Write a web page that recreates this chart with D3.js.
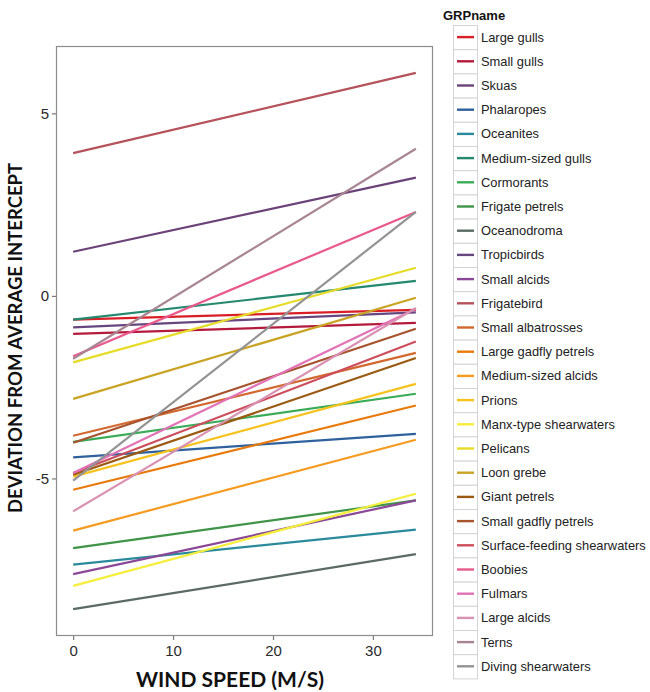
<!DOCTYPE html>
<html>
<head>
<meta charset="utf-8">
<script src="https://cdn.jsdelivr.net/npm/d3@7"></script>
<style>
  html, body { margin: 0; padding: 0; background: #fff; }
  svg { display: block; }
</style>
</head>
<body>
<svg id="chart" width="650" height="692"></svg>
<script>
// ---- data ----
const groups = [
  "Large gulls", "Small gulls", "Skuas", "Phalaropes", "Oceanites",
  "Medium-sized gulls", "Cormorants", "Frigate petrels", "Oceanodroma",
  "Tropicbirds", "Small alcids", "Frigatebird", "Small albatrosses",
  "Large gadfly petrels", "Medium-sized alcids", "Prions",
  "Manx-type shearwaters", "Pelicans", "Loon grebe", "Giant petrels",
  "Small gadfly petrels", "Surface-feeding shearwaters", "Boobies",
  "Fulmars", "Large alcids", "Terns", "Diving shearwaters"
];
// deviation at wind speed 0
const startValues = [
  -0.65, -1.04, 1.21, -4.42, -7.36,
  -0.65, -4.00, -6.91, -8.58,
  -0.86, -7.62, 3.91, -3.83,
  -5.31, -6.43, -4.95,
  -7.94, -1.82, -2.82, -4.90,
  -4.02, -4.85, -1.65,
  -4.85, -5.90, -1.72, -5.06
];
// deviation at max wind speed
const endValues = [
  -0.38, -0.74, 3.24, -3.78, -6.40,
  0.41, -2.68, -5.60, -7.07,
  -0.45, -5.60, 6.11, -1.56,
  -3.00, -3.94, -2.41,
  -5.42, 0.77, -0.05, -1.70,
  -0.90, -1.25, 2.30,
  -0.35, -0.33, 4.03, 2.30
];
const windRange = [0, 34.3];
const xTicks = [0, 10, 20, 30];
const yTicks = [-5, 0, 5];
const colors = [
  "#d91e26", "#b31a3c", "#6b4378", "#2f619d", "#2a8a9c",
  "#25896f", "#3aac58", "#3f9448", "#5b6b63",
  "#66467f", "#8b4896", "#b5525c", "#d2682e",
  "#e87a0c", "#f59b22", "#f6c21e",
  "#f5ee3a", "#e6dc28", "#c9a424", "#9a5a12",
  "#a6532e", "#cc4e5c", "#e95a8c",
  "#e173b6", "#d992b2", "#a88592", "#939393"
];

// ---- layout ----
const svg = d3.select("#chart");
const panel = { left: 56, top: 46, right: 433, bottom: 636 };

const xExp = (windRange[1] - windRange[0]) * 0.05;
const x = d3.scaleLinear()
  .domain([windRange[0] - xExp, windRange[1] + xExp])
  .range([panel.left, panel.right]);

const allVals = startValues.concat(endValues);
const yMin = d3.min(allVals), yMax = d3.max(allVals);
const yExp = (yMax - yMin) * 0.05;
const y = d3.scaleLinear()
  .domain([yMin - yExp, yMax + yExp])
  .range([panel.bottom, panel.top]);

// panel border
svg.append("rect")
  .attr("x", panel.left + 0.5).attr("y", panel.top + 0.5)
  .attr("width", panel.right - panel.left - 1)
  .attr("height", panel.bottom - panel.top - 1)
  .attr("fill", "#fff").attr("stroke", "#8c8c8c").attr("stroke-width", 1.2);

// lines
const lineGen = d3.line().x(d => x(d[0])).y(d => y(d[1]));
const series = groups.map((g, i) => ({
  name: g, color: colors[i],
  pts: [[windRange[0], startValues[i]], [windRange[1], endValues[i]]]
}));
svg.append("g").selectAll("path").data(series).join("path")
  .attr("d", d => lineGen(d.pts))
  .attr("fill", "none")
  .attr("stroke", d => d.color)
  .attr("stroke-width", 2.2)
  .attr("stroke-linecap", "butt");

// axes
const xAxis = d3.axisBottom(x).tickValues(xTicks).tickSize(4).tickPadding(5).tickFormat(d3.format("d"));
const gx = svg.append("g").attr("transform", `translate(0,${panel.bottom})`).call(xAxis);
const yAxis = d3.axisLeft(y).tickValues(yTicks).tickSize(4).tickPadding(3).tickFormat(d => d);
const gy = svg.append("g").attr("transform", `translate(${panel.left},0)`).call(yAxis);
[gx, gy].forEach(g => {
  g.select(".domain").remove();
  g.selectAll(".tick line").attr("stroke", "#7a7a7a").attr("stroke-width", 1.2);
  g.selectAll(".tick text")
    .attr("fill", "#2a2a2a")
    .style("font-family", "Liberation Sans, Arial, sans-serif")
    .style("font-size", "15px");
});

// axis titles
svg.append("text")
  .attr("x", 230).attr("y", 687)
  .attr("text-anchor", "middle")
  .style("font-family", "Lato, 'Open Sans', sans-serif")
  .style("font-weight", "bold")
  .style("font-size", "21px")
  .attr("fill", "#111")
  .text("WIND SPEED (M/S)");

svg.append("text")
  .attr("transform", `translate(22,338) rotate(-90)`)
  .attr("text-anchor", "middle")
  .style("font-family", "Lato, 'Open Sans', sans-serif")
  .style("font-weight", "bold")
  .style("font-size", "18.5px")
  .attr("fill", "#111")
  .text("DEVIATION FROM AVERAGE INTERCEPT");

// legend
const legend = svg.append("g");
legend.append("text")
  .attr("x", 443).attr("y", 20)
  .style("font-family", "Liberation Sans, Arial, sans-serif")
  .style("font-weight", "bold")
  .style("font-size", "13px")
  .attr("fill", "#111")
  .text("GRPname");

const keyTop = 25, keyH = 24.2, keyX = 453, keyW = 24;
const rows = legend.selectAll("g.row").data(series).join("g")
  .attr("class", "row")
  .attr("transform", (d, i) => `translate(0,${keyTop + i * keyH})`);
rows.append("rect")
  .attr("x", keyX + 0.5).attr("y", 0.5)
  .attr("width", keyW).attr("height", keyH)
  .attr("fill", "#fff").attr("stroke", "#d4d4d4").attr("stroke-width", 1);
rows.append("line")
  .attr("x1", keyX + 4).attr("x2", keyX + keyW - 3)
  .attr("y1", keyH / 2).attr("y2", keyH / 2)
  .attr("stroke", d => d.color).attr("stroke-width", 2.4);
rows.append("text")
  .attr("x", keyX + keyW + 4).attr("y", keyH / 2 + 4.5)
  .style("font-family", "Liberation Sans, Arial, sans-serif")
  .style("font-size", "12.9px")
  .attr("fill", "#222")
  .text(d => d.name);
</script>
</body>
</html>
